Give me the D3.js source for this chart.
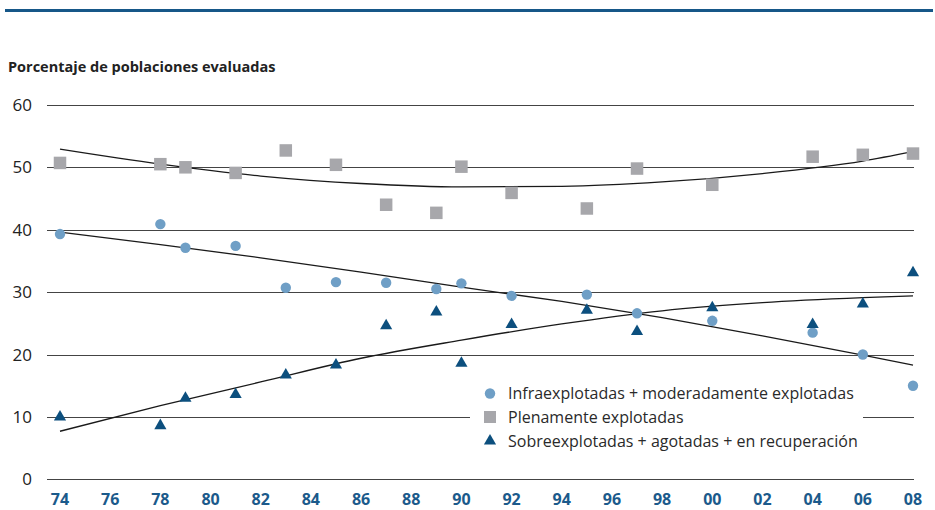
<!DOCTYPE html>
<html lang="es">
<head>
<meta charset="UTF-8">
<title>Porcentaje de poblaciones evaluadas</title>
<script src="https://d3js.org/d3.v7.min.js"></script>
<style>
  body { margin: 0; background: #fff; }
  svg text { font-family: "Open Sans", "Noto Sans", sans-serif; }
</style>
</head>
<body>
<div id="chart"></div>
<script>
// Data
const years = [1974, 1978, 1979, 1981, 1983, 1985, 1987, 1989, 1990, 1992, 1995, 1997, 2000, 2004, 2006, 2008];
const infraexplotadas = [39.3, 40.9, 37.1, 37.4, 30.7, 31.6, 31.5, 30.5, 31.4, 29.4, 29.6, 26.6, 25.4, 23.5, 20.0, 15.0];
const plenamente = [50.7, 50.5, 50.0, 49.1, 52.7, 50.4, 44.0, 42.7, 50.1, 45.9, 43.4, 49.8, 47.2, 51.7, 52.0, 52.2];
const sobreexplotadas = [10.0, 8.6, 13.0, 13.6, 16.7, 18.3, 24.6, 26.8, 18.6, 24.8, 27.1, 23.7, 27.5, 24.8, 28.1, 33.1];

// trend curves as they appear in the picture
const trendYears = [1974, 1978, 1982, 1986, 1990, 1994, 1998, 2002, 2006, 2008];
const trendInfra = [39.6, 37.6, 35.5, 33.2, 30.8, 28.5, 25.9, 23.0, 19.9, 18.3];
const trendPlena = [52.9, 50.5, 48.6, 47.4, 46.85, 46.95, 47.65, 49.0, 51.0, 52.5];
const trendSobre = [7.7, 11.8, 15.6, 19.4, 22.3, 24.9, 27.0, 28.3, 29.1, 29.4];

const xTicks = d3.range(1974, 2009, 2);
const yTicks = [0, 10, 20, 30, 40, 50, 60];
const legendLabels = [
  "Infraexplotadas + moderadamente explotadas",
  "Plenamente explotadas",
  "Sobreexplotadas + agotadas + en recuperación"
];
const title = "Porcentaje de poblaciones evaluadas";

const width = 935, height = 510;
const colCircle = "#6f9fc6", colSquare = "#a7a7ab", colTri = "#0c4f7e";

const svg = d3.select("#chart").append("svg")
  .attr("width", width)
  .attr("height", height);

// top rule
svg.append("rect")
  .attr("x", 5).attr("y", 9)
  .attr("width", 928).attr("height", 3)
  .attr("fill", "#165788");

// title
svg.append("text")
  .attr("x", 8).attr("y", 72)
  .attr("font-size", "14.5px")
  .attr("font-weight", "bold")
  .attr("fill", "#222")
  .text(title);

const x = d3.scaleLinear().domain([1974, 2008]).range([60, 913]);
const y = d3.scaleLinear().domain([0, 60]).range([479.3, 104.9]);

// gridlines
svg.append("g").selectAll("line")
  .data(yTicks)
  .join("line")
  .attr("x1", 47).attr("x2", 914)
  .attr("y1", d => Math.round(y(d)) + 0.5)
  .attr("y2", d => Math.round(y(d)) + 0.5)
  .attr("stroke", "#444")
  .attr("stroke-width", 1);

// y labels
svg.append("g").selectAll("text")
  .data(yTicks)
  .join("text")
  .attr("x", 32)
  .attr("y", d => y(d))
  .attr("dy", "0.36em")
  .attr("text-anchor", "end")
  .attr("font-size", "17px")
  .attr("fill", "#222")
  .text(d => d);

// x labels
svg.append("g").selectAll("text")
  .data(xTicks)
  .join("text")
  .attr("x", d => x(d))
  .attr("y", 505)
  .attr("text-anchor", "middle")
  .attr("font-size", "16px")
  .attr("font-weight", "bold")
  .attr("fill", "#1b5a8b")
  .text(d => String(d).slice(2));

// trend lines
const trend = vals => d3.line()
  .x((d, i) => x(trendYears[i]))
  .y(d => y(d))
  .curve(d3.curveMonotoneX)(vals);

[trendInfra, trendPlena, trendSobre].forEach(vals => {
  svg.append("path")
    .attr("d", trend(vals))
    .attr("fill", "none")
    .attr("stroke", "#1a1a1a")
    .attr("stroke-width", 1.3);
});

// markers
svg.append("g").selectAll("circle")
  .data(infraexplotadas)
  .join("circle")
  .attr("cx", (d, i) => x(years[i]))
  .attr("cy", d => y(d))
  .attr("r", 5.2)
  .attr("fill", colCircle);

const sq = 12.5;
svg.append("g").selectAll("rect")
  .data(plenamente)
  .join("rect")
  .attr("x", (d, i) => x(years[i]) - sq / 2)
  .attr("y", d => y(d) - sq / 2)
  .attr("width", sq).attr("height", sq)
  .attr("fill", colSquare);

const tri = d3.symbol().type(d3.symbolTriangle).size(64);
svg.append("g").selectAll("path")
  .data(sobreexplotadas)
  .join("path")
  .attr("d", tri)
  .attr("transform", (d, i) => `translate(${x(years[i])},${y(d)})`)
  .attr("fill", colTri);

// legend
const lg = svg.append("g");
lg.append("rect")
  .attr("x", 470).attr("y", 378)
  .attr("width", 393).attr("height", 76)
  .attr("fill", "#fff");

const rowY = [393.5, 417, 441];
lg.append("circle").attr("cx", 490).attr("cy", rowY[0]).attr("r", 5.2).attr("fill", colCircle);
lg.append("rect").attr("x", 484).attr("y", rowY[1] - 6).attr("width", 12).attr("height", 12).attr("fill", colSquare);
lg.append("path").attr("d", tri).attr("transform", `translate(490,${rowY[2]})`).attr("fill", colTri);

lg.selectAll("text")
  .data(legendLabels)
  .join("text")
  .attr("x", 508)
  .attr("y", (d, i) => rowY[i])
  .attr("dy", "0.36em")
  .attr("font-size", "16px")
  .attr("fill", "#2a2a2a")
  .text(d => d);
</script>
</body>
</html>
